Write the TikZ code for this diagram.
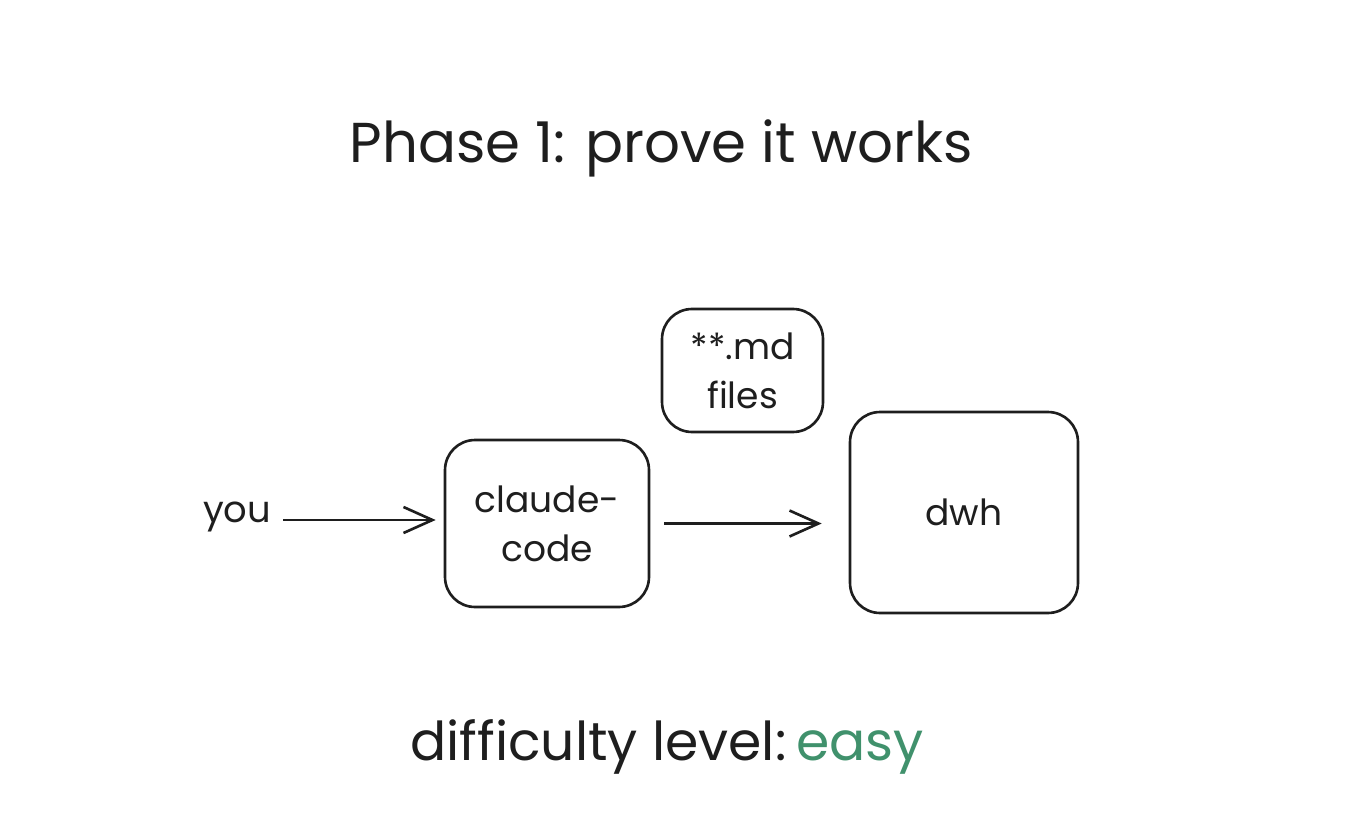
\documentclass[tikz,border=0pt]{standalone}
\usepackage{fontspec}
\setmainfont{Poppins}
\usetikzlibrary{arrows.meta}
\definecolor{ink}{HTML}{1E1E1E}
\definecolor{easygreen}{HTML}{40916C}
\tikzset{
  box/.style={draw=ink, line width=1.5pt, rounded corners=0.6cm, align=center, inner sep=0pt, text=ink, font=\fontsize{20.5}{28}\selectfont},
  lbl/.style={text=ink, inner sep=0pt},
  conn/.style={draw=ink, line width=1.5pt, -{Straight Barb[length=0.58cm, width=0.52cm, line width=1.5pt]}}
}
\begin{document}
\begin{tikzpicture}[x=0.02cm, y=-0.02cm]
\useasboundingbox (0,0) rectangle (1372,838);
\node[lbl, font=\fontsize{32}{38}\selectfont] (title) at (661,148) {Phase 1: prove it works};
\node[box, minimum width=4.08cm, minimum height=3.34cm] (claude) at (547,523.5) {claude-\\code};
\node[box, minimum width=3.22cm, minimum height=2.46cm] (md) at (742.5,370.5) {**.md\\files};
\node[box, minimum width=4.56cm, minimum height=4.02cm] (dwh) at (964,512.5) {dwh};
\node[lbl, font=\fontsize{21}{26}\selectfont] (you) at (237,517) {you};
\coordinate (youarr) at (270,520);
\draw[conn, shorten <=0.26cm, shorten >=0.16cm] (youarr) -- (claude.west |- youarr);
\draw[conn, shorten <=0.28cm, shorten >=0.54cm] (claude.east) -- (dwh.west |- claude.east);
\node[lbl, font=\fontsize{30.5}{36}\selectfont, anchor=base west] (diff) at (410,760) {difficulty level:};
\node[lbl, font=\fontsize{30.5}{36}\selectfont, text=easygreen, anchor=base west] (easy) at (diff.base east) {\,easy};
\end{tikzpicture}
\end{document}
